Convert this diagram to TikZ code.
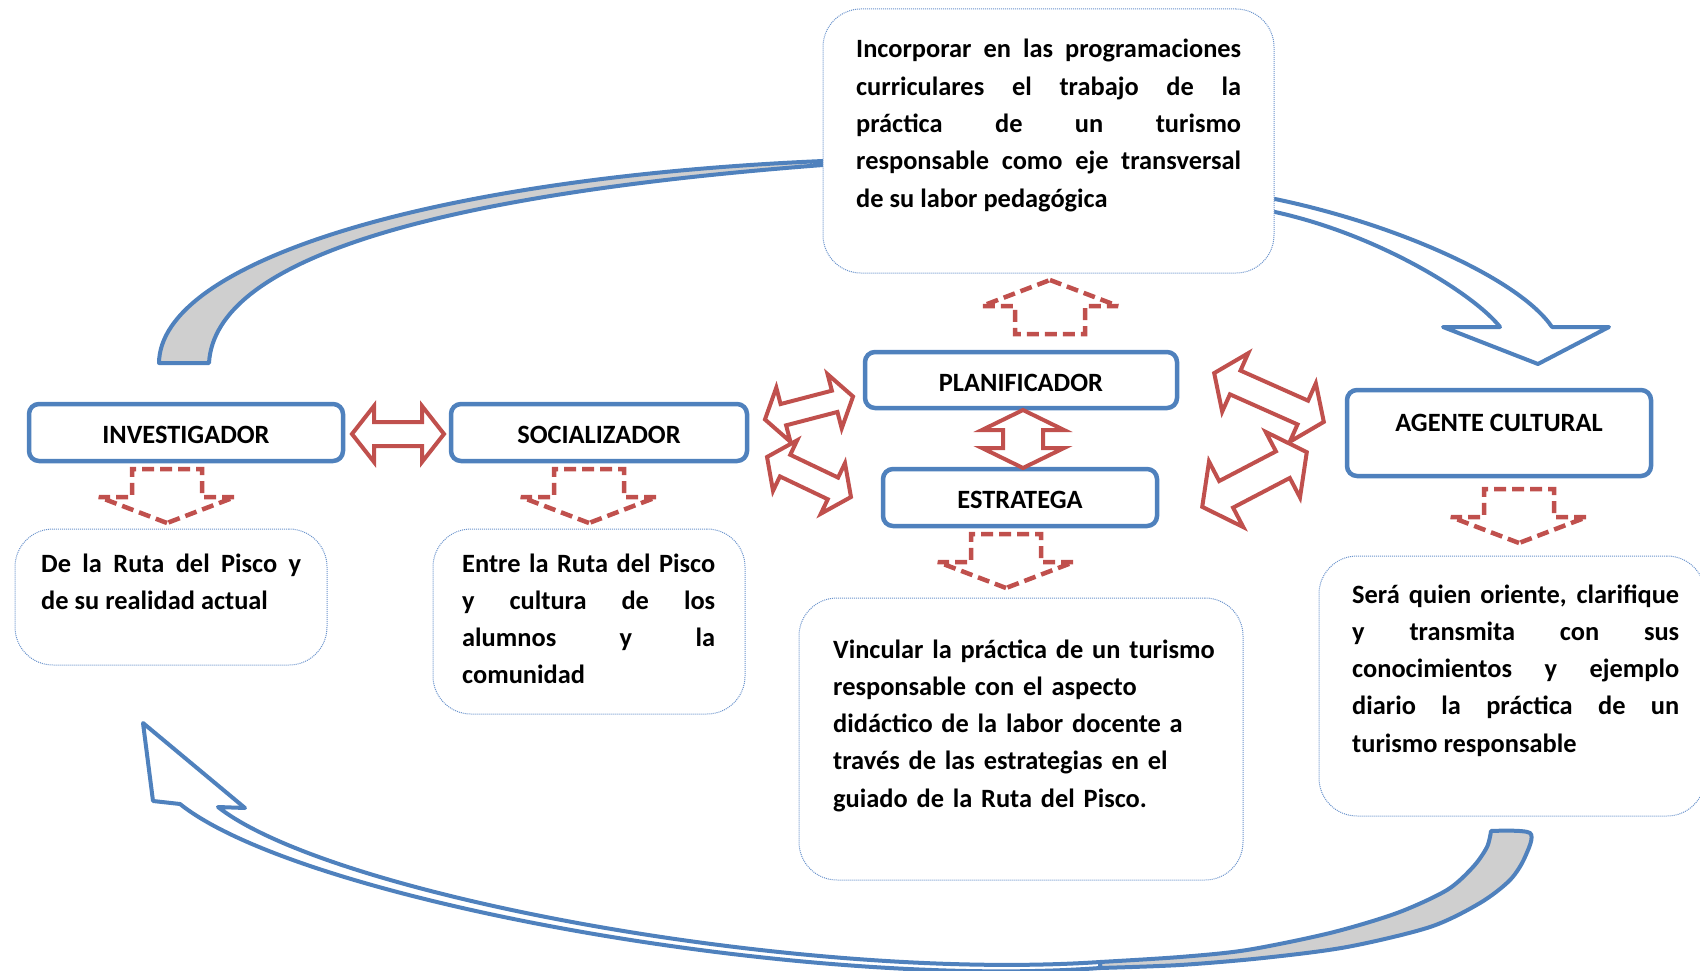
\documentclass[tikz,border=0pt]{standalone}
\usepackage{fontspec}
\setmainfont{Carlito}
\definecolor{boxblue}{HTML}{4F81BD}
\definecolor{noteblue}{HTML}{6A93CC}
\definecolor{arrowred}{HTML}{C0504D}
\definecolor{bandgray}{HTML}{CFCFCF}
\newcommand{\notefont}{\fontsize{26.4}{37.3}\selectfont\bfseries\tolerance=10000\hbadness=10000}
\newcommand{\rolefont}{\fontsize{26.4}{30}\selectfont\bfseries}
\tikzset{
	rolebox/.style={draw=boxblue, line width=4.5pt, rounded corners=10pt, fill=white, font=\rolefont, inner sep=0pt, text height=23pt},
	notebox/.style={draw=noteblue, densely dotted, line width=1pt, rounded corners=38pt, fill=white},
	notetext/.style={anchor=base west, inner sep=0pt, font=\notefont, align=justify},
	dasharrow/.style={draw=arrowred, line width=4.5pt, dash pattern=on 12pt off 6pt, line join=miter, miter limit=2},
	dblarrow/.style={draw=arrowred, line width=4pt, fill=white, line join=miter},
	bandback/.style={draw=boxblue, line width=4pt, fill=bandgray, line join=round},
	bandfront/.style={draw=boxblue, line width=4pt, fill=white, line join=round},
	pics/downarrow/.style={code={
		\draw[dasharrow] (0,0) -- (-68,-26) -- (-35,-26) -- (-35,-54) -- (35,-54) -- (35,-26) -- (68,-26) -- cycle;}},
	pics/twohead/.style args={#1/#2/#3/#4}{code={
		\draw[dblarrow] (-#1,0) -- ({#4-#1},-#2) -- ({#4-#1},-#3) -- ({#1-#4},-#3) -- ({#1-#4},-#2) -- (#1,0)
			-- ({#1-#4},#2) -- ({#1-#4},#3) -- ({#4-#1},#3) -- ({#4-#1},#2) -- cycle;}}
}
\begin{document}
\begin{tikzpicture}[x=1pt, y=-1pt]
	\useasboundingbox (0,0) rectangle (1700,971);

	\draw[bandback] (159,363) .. controls (160,262) and (430,178) .. (823,161) -- (850,161)
		-- (850,165) -- (823,165) .. controls (430,195) and (215,260) .. (209,363) -- cycle;
	\draw[bandfront] (1250,197) -- (1275,199) .. controls (1400,225) and (1520,280) .. (1552,327)
		-- (1609,327) -- (1538,364) -- (1443,327) -- (1500,327)
		.. controls (1475,295) and (1380,235) .. (1275,212) -- (1250,210) -- cycle;
	\draw[bandback] plot[smooth] coordinates {(1491,831) (1530,833) (1525,857) (1510,880) (1480,903) (1430,927) (1347,947) (1263,958) (1180,965) (1100,968)}
		-- plot[smooth] coordinates {(1100,962) (1180,957) (1247,950) (1330,933) (1397,913) (1447,890) (1473,867) (1487,847) (1491,831)} -- cycle;
	\draw[bandfront] (1100,968) .. controls (800,990) and (300,900) .. (180,804)
		-- (153,801) -- (143,723) -- (245,808) -- (218,807)
		.. controls (330,895) and (800,982) .. (1100,962) -- cycle;

	\node[notebox, minimum width=451, minimum height=264] (incorp) at (1048.5,141) {};
	\node[notebox, minimum width=312, minimum height=136] (ruta) at (171,597) {};
	\node[notebox, minimum width=312, minimum height=185] (entre) at (589,621.5) {};
	\node[notebox, minimum width=444, minimum height=282] (vincular) at (1021,739) {};
	\node[notebox, minimum width=386, minimum height=260] (sera) at (1512,686) {};

	\node[notetext, text width=385] (incorptext) at (856,58) {Incorporar en las programaciones\linebreak curriculares el trabajo de la\linebreak práctica de un turismo\linebreak responsable como eje transversal\linebreak de su labor pedagógica};
	\node[notetext, text width=260] (rutatext) at (41,572) {De la Ruta del Pisco y\linebreak de su realidad actual};
	\node[notetext, text width=253] (entretext) at (462,572) {Entre la Ruta del Pisco\linebreak y cultura de los\linebreak alumnos y la\linebreak comunidad};
	\node[notetext, text width=400, align=left] (vinculartext) at (833,658) {Vincular la práctica de un turismo\\ responsable con el aspecto\\ didáctico de la labor docente a\\ través de las estrategias en el\\ guiado de la Ruta del Pisco.};
	\node[notetext, text width=327] (seratext) at (1352,603) {Será quien oriente, clarifique\linebreak y transmita con sus\linebreak conocimientos y ejemplo\linebreak diario la práctica de un\linebreak turismo responsable};

	\node[rolebox, minimum width=314, minimum height=57] (inv) at (186,432.5) {INVESTIGADOR};
	\node[rolebox, minimum width=296, minimum height=57] (soc) at (599,432.5) {SOCIALIZADOR};
	\node[rolebox, minimum width=312, minimum height=56] (plan) at (1021,380) {PLANIFICADOR};
	\node[rolebox, minimum width=274, minimum height=57] (estr) at (1020,497.5) {ESTRATEGA};
	\node[rolebox, minimum width=304, minimum height=86, text depth=26pt] (agente) at (1499,433) {AGENTE CULTURAL};

	\pic at (167,523) {downarrow};
	\pic at (589,523) {downarrow};
	\pic at (1006,588) {downarrow};
	\pic at (1519,543) {downarrow};
	\pic[rotate=180] at (1050,280) {downarrow};

	\pic at (398,434) {twohead=46/28/12/22};
	\pic[rotate=90] at (1023,439) {twohead=29/41/20/20};
	\pic[rotate=14.6] at (809,408) {twohead=45.5/28/11/19};
	\pic[rotate=-25.5] at (809,477) {twohead=46.5/28/12/20};
	\pic[rotate=-24] at (1269,397.5) {twohead=60/32/13/23};
	\pic[rotate=27.6] at (1254.5,479.5) {twohead=59/37/15/27};
\end{tikzpicture}
\end{document}
